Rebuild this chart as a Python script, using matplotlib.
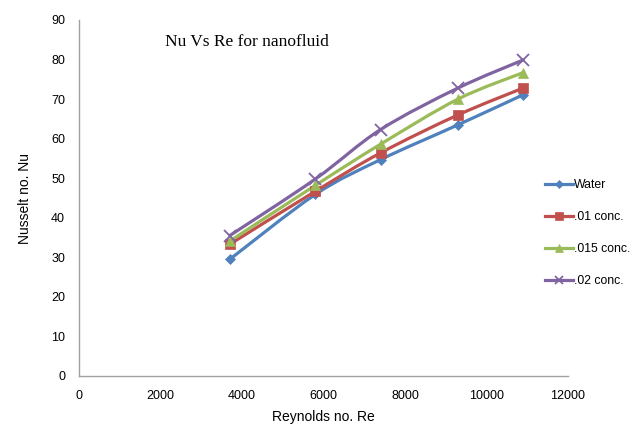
import matplotlib
matplotlib.use("Agg")
import matplotlib.pyplot as plt
from matplotlib.path import Path
from matplotlib.patches import PathPatch
from matplotlib.lines import Line2D

tick_font = "Liberation Sans"

re_values = [3700, 5800, 7400, 9300, 10900]
series_names = ["Water", ".01 conc.", ".015 conc.", ".02 conc."]
nu_water = [29.5, 45.9, 54.7, 63.5, 71.1]
nu_01 = [33.3, 46.7, 56.4, 66.0, 72.8]
nu_015 = [34.1, 48.2, 58.6, 70.0, 76.7]
nu_02 = [35.5, 49.8, 62.3, 72.8, 79.9]
x_ticks = [0, 2000, 4000, 6000, 8000, 10000, 12000]
y_ticks = [0, 10, 20, 30, 40, 50, 60, 70, 80, 90]

colors = ["#4F81BD", "#C0504D", "#9BBB59", "#8064A2"]
markers = ["D", "s", "^", "x"]
msizes = [5, 7, 7, 8]


def smooth_path(xs, ys):
    pts = list(zip(xs, ys))
    n = len(pts)
    verts = [pts[0]]
    codes = [Path.MOVETO]
    for i in range(n - 1):
        p0 = pts[i - 1] if i > 0 else pts[i]
        p1 = pts[i]
        p2 = pts[i + 1]
        p3 = pts[i + 2] if i + 2 < n else pts[i + 1]
        c1 = (p1[0] + (p2[0] - p0[0]) / 6, p1[1] + (p2[1] - p0[1]) / 6)
        c2 = (p2[0] - (p3[0] - p1[0]) / 6, p2[1] - (p3[1] - p1[1]) / 6)
        verts += [c1, c2, p2]
        codes += [Path.CURVE4] * 3
    return Path(verts, codes)


fig = plt.figure(figsize=(6.31, 4.26), dpi=100)
ax = fig.add_axes([79 / 631, 1 - 376 / 426, (568 - 79) / 631, (376 - 20) / 426])

handles = []
for ys, name, c, m, ms in zip([nu_water, nu_01, nu_015, nu_02], series_names, colors, markers, msizes):
    mew = 1.3 if m == "x" else 0.5
    ax.add_patch(PathPatch(smooth_path(re_values, ys), facecolor="none", edgecolor=c, lw=2.3,
                           capstyle="round", joinstyle="round"))
    ax.plot(re_values, ys, ls="none", marker=m, ms=ms, mew=mew, color=c, mec=c, zorder=3)
    handles.append(Line2D([], [], color=c, lw=2.3, marker=m, ms=ms * 0.8, mew=mew, mec=c, label=name))

ax.set_xlim(0, 12000)
ax.set_ylim(0, 90)
ax.set_xticks(x_ticks)
ax.set_yticks(y_ticks)
ax.tick_params(length=0, labelsize=9, pad=10)
for lab in ax.get_xticklabels() + ax.get_yticklabels():
    lab.set_fontfamily(tick_font)
for s in ["top", "right"]:
    ax.spines[s].set_visible(False)
for s in ["left", "bottom"]:
    ax.spines[s].set_color("#A0A0A0")
    ax.spines[s].set_linewidth(1)

ax.set_xlabel("Reynolds no. Re", fontsize=10, family=tick_font, labelpad=6)
ax.set_ylabel("Nusselt no. Nu", fontsize=10, family=tick_font, labelpad=14)

fig.text(165 / 631, 1 - 42 / 426, "Nu Vs Re for nanofluid", fontsize=12.5,
         family="Liberation Serif", va="center", ha="left")

fig.legend(handles=handles, loc="upper left", bbox_to_anchor=(540 / 631, 1 - 174 / 426), frameon=False,
           prop={"family": tick_font, "size": 8.8}, handlelength=2.3, handletextpad=0.1,
           labelspacing=1.65, borderaxespad=0)

fig.savefig("out.png", dpi=100)
